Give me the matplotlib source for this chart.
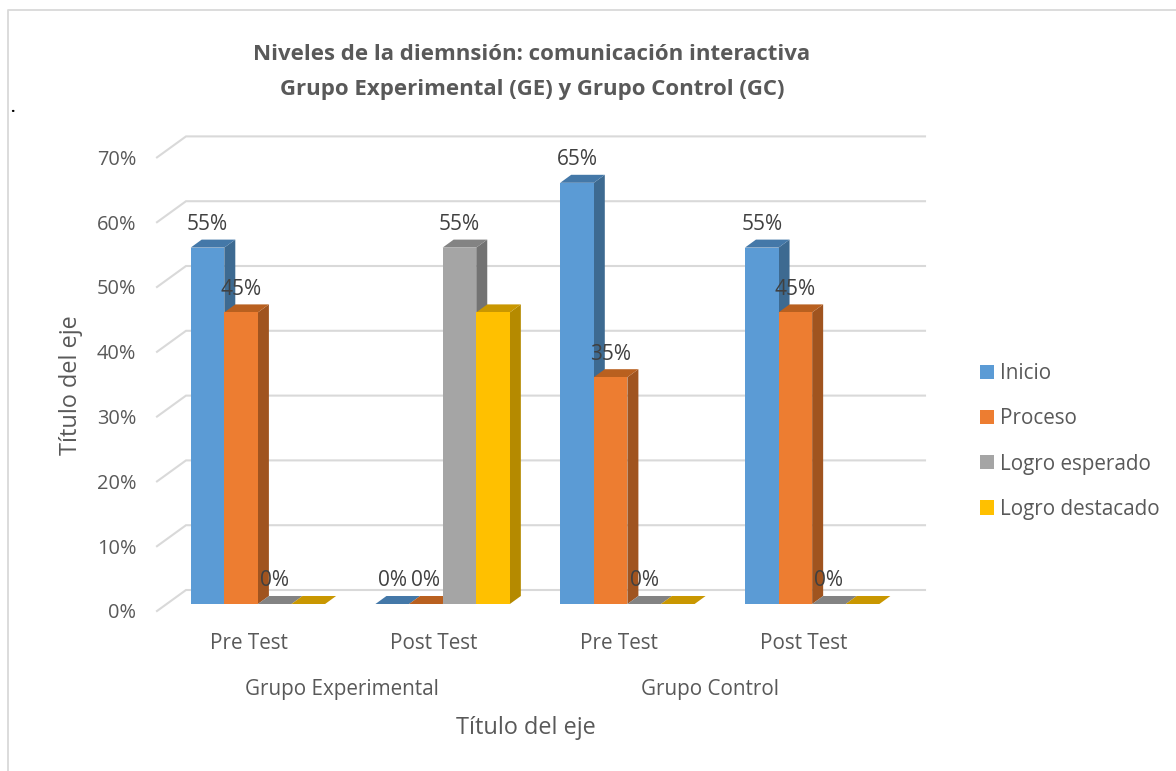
import matplotlib
matplotlib.use("Agg")
import matplotlib.pyplot as plt
from matplotlib.lines import Line2D
from matplotlib.patches import Patch

plt.rcParams['font.family'] = ['Open Sans', 'DejaVu Sans']

# ---- data ----
categories = ['Pre Test', 'Post Test', 'Pre Test', 'Post Test']
groups = ['Grupo Experimental', 'Grupo Control']
series_names = ['Inicio', 'Proceso', 'Logro esperado', 'Logro destacado']
inicio = [55, 0, 65, 55]
proceso = [45, 0, 35, 45]
logro_esperado = [0, 55, 0, 0]
logro_destacado = [0, 45, 0, 0]
y_ticks = [0, 10, 20, 30, 40, 50, 60, 70]
title_line_1 = 'Niveles de la diemnsión: comunicación interactiva'
title_line_2 = 'Grupo Experimental (GE) y Grupo Control (GC)'
x_title = 'Título del eje'
y_title = 'Título del eje'

# ---- styles ----
front = ['#5B9BD5', '#ED7D31', '#A5A5A5', '#FFC000']
top = ['#4478A8', '#B9601F', '#838383', '#C99700']
side = ['#3D6A91', '#A0541F', '#737373', '#B58A00']
TXT = '#595959'
LBL = '#404040'
GRID = '#D9D9D9'

W, H = 1176, 771
fig = plt.figure(figsize=(W / 100, H / 100), dpi=100, facecolor='white')
L, R, B, T = 157, 896, 611, 611 - 453.6
ax = fig.add_axes([L / W, 1 - B / H, (R - L) / W, (B - T) / H])
ax.set_xlim(0, 4)
ax.set_ylim(0, 70)
ax.patch.set_visible(False)
for s in ax.spines.values():
    s.set_visible(False)

px_x = 4 / (R - L)
px_y = 70 / (B - T)

# walls and gridlines
wall_dx, wall_dy = 29 * px_x, 21 * px_y
for v in y_ticks:
    ax.plot([0, wall_dx, 4 + wall_dx], [v, v + wall_dy, v + wall_dy],
            color=GRID, lw=1.5, clip_on=False, zorder=1, solid_joinstyle='miter')

# bars
bar_w = 33.6 * px_x
start = 33.7 * px_x
depth_x, depth_y = 11 * px_x, 8 * px_y
base = 7 * px_y
z = 2
all_series = [inicio, proceso, logro_esperado, logro_destacado]
for c in range(len(categories)):
    for s, vals in enumerate(all_series):
        v = vals[c]
        x0 = c + start + s * bar_w
        y1 = base + v
        ax.fill([x0 + bar_w, x0 + bar_w + depth_x, x0 + bar_w + depth_x, x0 + bar_w],
                [base, base + depth_y, y1 + depth_y, y1],
                color=side[s], lw=0, clip_on=False, zorder=z)
        ax.fill([x0, x0 + depth_x, x0 + bar_w + depth_x, x0 + bar_w],
                [y1, y1 + depth_y, y1 + depth_y, y1],
                color=top[s], lw=0, clip_on=False, zorder=z)
        if v > 0:
            ax.bar(x0, v, width=bar_w, bottom=base, align='edge', color=front[s],
                   lw=0, clip_on=False, zorder=z)
        z += 0.01

# data labels (the reference shows none for the "Logro destacado" series)
for c in range(len(categories)):
    for s, vals in enumerate(all_series[:3]):
        v = vals[c]
        x0 = c + start + s * bar_w
        ax.annotate(f'{v}%', (x0 + bar_w / 2, base + v), xytext=(0, 23 * 0.72),
                    textcoords='offset points', ha='center', va='center',
                    fontsize=15, color=LBL, zorder=10, annotation_clip=False)

# axes
ax.set_yticks(y_ticks)
ax.set_yticklabels([f'{v}%' for v in y_ticks])
ax.set_xticks([i + 0.5 for i in range(4)])
ax.set_xticklabels(categories)
ax.tick_params(axis='y', length=0, labelsize=14.4, labelcolor=TXT, pad=15)
ax.tick_params(axis='x', length=0, labelsize=14.9, labelcolor=TXT, pad=16)
ax.set_xlabel(x_title, fontsize=16.9, color=TXT, va='center')
ax.xaxis.set_label_coords((526 - L) / (R - L), (B - 728) / (B - T))
ax.set_ylabel(y_title, fontsize=16.9, color=TXT, va='center')
ax.yaxis.set_label_coords((71 - L) / (R - L), (B - 385) / (B - T))
for i, g in enumerate(groups):
    ax.text([342, 710][i] / W, 1 - 689 / H, g, transform=fig.transFigure,
            ha='center', va='center', fontsize=14.9, color=TXT)

for y, line in zip([55, 89], [title_line_1, title_line_2]):
    fig.text(532 / W, 1 - y / H, line, ha='center', va='center', fontsize=16,
             fontweight='bold', color=TXT)

handles = [Patch(facecolor=c, edgecolor='none', label=n) for c, n in zip(front, series_names)]
leg = fig.legend(handles=handles, loc='center left', bbox_to_anchor=(980 / W, 1 - 441.5 / H),
                 frameon=False, fontsize=14.9, handlelength=0.68, handleheight=0.68,
                 handletextpad=0.3, labelspacing=1.17, borderpad=0, borderaxespad=0,
                 labelcolor=TXT)

# chart frame and stray dot
fig.add_artist(Line2D([7.8 / W, 7.8 / W, 1], [0, 1 - 10 / H, 1 - 10 / H],
                      color=GRID, lw=1.3, transform=fig.transFigure))
fig.text(12 / W, 1 - 112 / H, '.', fontsize=11, color='black', ha='center', va='baseline',
         fontweight='bold')
fig.savefig('out.png', dpi=100, facecolor='white')
